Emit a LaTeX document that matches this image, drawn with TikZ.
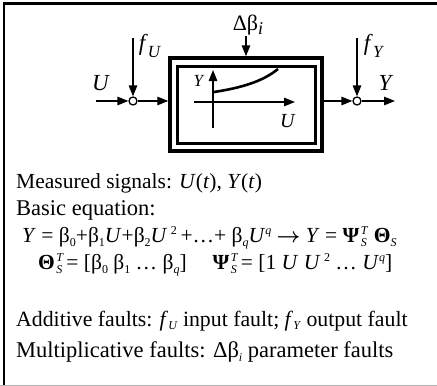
\documentclass[tikz,border=0pt]{standalone}
\usepackage{fontspec}
\setmainfont{Liberation Serif}
\usetikzlibrary{arrows.meta}
\newcommand{\vi}[1]{\textit{#1}}
\newcommand{\sbx}[1]{\raisebox{-3.5pt}{\fontsize{12}{12}\selectfont #1}}
\newcommand{\spx}[1]{\raisebox{8pt}{\fontsize{12}{12}\selectfont #1}}
\newcommand{\ssx}[2]{\hspace{1.5pt}\rlap{\spx{#1}}\sbx{#2}\hspace{4pt}}
\begin{document}
\begin{tikzpicture}[x=1pt,y=-1pt,
  arr/.style={-{Triangle[length=11pt,width=8.5pt]}, line width=1.4pt},
  junction/.style={circle, draw, line width=1.3pt, fill=white, minimum size=8pt, inner sep=0pt},
  lbl/.style={font=\fontsize{23}{26}\selectfont, inner sep=0pt},
  txt/.style={font=\fontsize{22.5}{26}\selectfont, anchor=west, inner sep=0pt},
  eqtxt/.style={font=\fontsize{21.5}{26}\selectfont, anchor=west, inner sep=0pt}
]
\useasboundingbox (0,0) rectangle (437,386);
% frame
\draw[line width=2.5pt] (4,386) -- (4,3.5) -- (437,3.5);
\draw[gray!60, line width=1.2pt] (0,385.2) -- (437,385.2);

% boxes
\node[draw, line width=3.5pt, minimum width=152pt, minimum height=93pt, inner sep=0pt] (outer) at (246,104.5) {};
\node[draw, line width=3pt, minimum width=138pt, minimum height=77pt, inner sep=0pt] (inner) at (246,104.5) {};

% junctions
\node[junction] (c1) at (133,101) {};
\node[junction] (c2) at (357,101) {};

\coordinate (uin) at (96,101);
\coordinate (yout) at (395,101);
\coordinate (fu) at (133,38);
\coordinate (fy) at (357,38);
\coordinate (db) at (246,36);

\draw[arr] (uin) -- (c1);
\draw[arr] (fu) -- (c1);
\draw[arr] (c1) -- (c1 -| outer.west);
\draw[arr] (c2 -| outer.east) -- (c2);
\draw[arr] (fy) -- (c2);
\draw[arr] (c2) -- (yout);
\draw[arr] (db) -- (db |- outer.north);

% labels
\node[lbl] (lu) at (101,83) {\vi{U}};
\node[lbl] (lfu) at (150,46) {\vi{f}\raisebox{-7pt}{\fontsize{17}{17}\selectfont\vi{U}}};
\node[lbl] (lfy) at (374,46) {\vi{f}\raisebox{-7pt}{\fontsize{17}{17}\selectfont\vi{Y}}};
\node[lbl] (ly) at (386,83) {\vi{Y}};
\node[font=\fontsize{22}{24}\selectfont, inner sep=0pt] (ldb) at (248,25) {Δβ\raisebox{-4pt}{\fontsize{18}{18}\selectfont\vi{i}}};

% inner plot
\coordinate (yb) at (213,128);
\coordinate (yt) at (213,70);
\coordinate (ul) at (194,102);
\coordinate (ur) at (295,102);
\coordinate (cs) at (214,92);
\coordinate (ce) at (278,69);
\draw[arr] (yb) -- (yt);
\draw[arr] (ul) -- (ur);
\draw[line width=2.6pt] (cs) .. controls (240,88) and (262,82) .. (ce);
\node[font=\fontsize{17}{20}\selectfont, inner sep=0pt] (ply) at (199,81) {\vi{Y}};
\node[font=\fontsize{20}{22}\selectfont, inner sep=0pt] (plu) at (288,121) {\vi{U}};

% text
\node[txt, font=\fontsize{21.5}{26}\selectfont] (t1) at (16,183) {Measured signals: \vi{U}(\vi{t}), \vi{Y}(\vi{t})};
\node[txt] (t2) at (16,210) {Basic equation:};
\node[eqtxt] (t3) at (22,238) {\vi{Y} = β\sbx{0}+β\sbx{1}\vi{U}+β\sbx{2}\vi{U}\,\spx{2}\,+…+ β\sbx{\vi{q}}\vi{U}\spx{\vi{q}} {\boldmath$\rightarrow$} \vi{Y} = \textbf{Ψ}\ssx{\vi{T}}{\vi{S}}\hspace{3pt}\textbf{Θ}\sbx{\vi{S}}};
\node[eqtxt] (t4) at (38,265) {\textbf{Θ}\ssx{\vi{T}}{\vi{S}}= [β\sbx{0} β\sbx{1} … β\sbx{\vi{q}}]\hspace{26pt}\textbf{Ψ}\ssx{\vi{T}}{\vi{S}}= [1 \vi{U} \vi{U}\,\spx{2} … \vi{U}\spx{\vi{q}}]};
\node[txt, font=\fontsize{21.8}{26}\selectfont] (t5) at (16,321) {Additive faults: \vi{f}\sbx{\vi{U}} input fault; \vi{f}\sbx{\vi{Y}} output fault};
\node[txt] (t6) at (16,352) {Multiplicative faults: Δβ\sbx{\vi{i}} parameter faults};
\end{tikzpicture}
\end{document}
